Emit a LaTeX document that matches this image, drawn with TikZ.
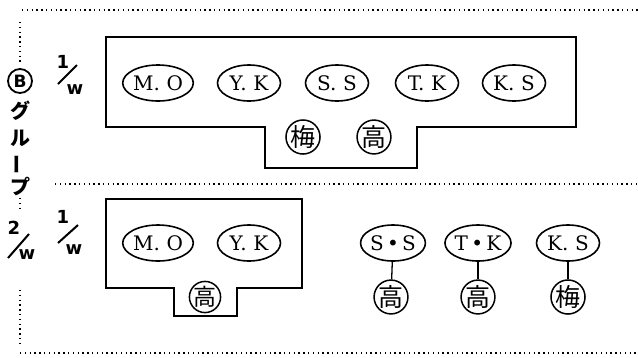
\documentclass[tikz,border=0pt]{standalone}
\usepackage{fontspec}
\usepackage{graphicx}
\newfontfamily\cjk{Noto Sans CJK JP}
\newfontfamily\serifb{DejaVu Serif}
\newfontfamily\sansb{DejaVu Sans}
\usetikzlibrary{shapes.geometric}
\tikzset{
  person/.style={ellipse, draw, line width=1.6pt, minimum width=63pt, minimum height=36pt, inner sep=0pt, font=\serifb\fontsize{20}{20}\selectfont},
  kan/.style={circle, draw, line width=1.5pt, minimum size=33pt, inner sep=0pt, font=\cjk\fontsize{25}{25}\selectfont},
  boxline/.style={line width=2pt, line join=miter},
  dotline/.style={line width=1.3pt, dash pattern=on 1.3pt off 3.5pt},
  num/.style={inner sep=0pt, font=\sansb\bfseries\fontsize{18}{18}\selectfont},
  wlab/.style={inner sep=0pt, font=\sansb\bfseries\fontsize{18}{18}\selectfont},
  vkana/.style={inner sep=0pt, font=\cjk\bfseries\fontsize{20}{20}\selectfont},
  slash/.style={line width=2pt},
  link/.style={line width=1.3pt}
}
\begin{document}
\begin{tikzpicture}[x=1pt,y=-1pt]
\useasboundingbox (0,0) rectangle (638,357);

% dotted frame lines
\draw[dotline] (22,10) -- (638,10);
\draw[dotline] (20,22) -- (20,64);
\draw[dotline] (55,184) -- (638,184);
\draw[dotline] (20,198) -- (20,212);
\draw[dotline] (20,290) -- (20,346);
\draw[dotline] (20,353) -- (638,353);

% vertical label
\node[circle, draw, line width=1.8pt, minimum size=24pt, inner sep=0pt, font=\sansb\bfseries\fontsize{17}{17}\selectfont] (bmark) at (20,81) {B};
\node[vkana] (k1) at (20,111) {グ};
\node[vkana] (k2) at (20,138) {ル};
\node[vkana] (k3) at (20,164) {\rotatebox{90}{ー}};
\node[vkana] (k4) at (20,187) {プ};

% 1/w top
\node[num] (t1) at (63,62) {1};
\coordinate (ts1) at (58,84);
\coordinate (ts2) at (77,65);
\draw[slash] (ts1) -- (ts2);
\node[wlab] (tw) at (75,90) {w};

% 1/w bottom
\node[num] (b1) at (63,217) {1};
\coordinate (bs1) at (58,243);
\coordinate (bs2) at (78,225);
\draw[slash] (bs1) -- (bs2);
\node[wlab] (bw) at (74,250) {w};

% 2/w
\node[num] (n2) at (14,228) {2};
\coordinate (ns1) at (8,258);
\coordinate (ns2) at (29,234);
\draw[slash] (ns1) -- (ns2);
\node[wlab] (nw) at (27,255) {w};

% top box
\draw[boxline] (106,37) -- (576,37) -- (576,127) -- (417,127) -- (417,168) -- (265,168) -- (265,127) -- (106,127) -- cycle;
\node[person] (mo1) at (158,83) {M.\,\,O};
\node[person] (yk1) at (249,83) {Y.\,\,K};
\node[person] (ss1) at (337,83) {S.\,\,S};
\node[person] (tk1) at (427,83) {T.\,\,K};
\node[person] (ks1) at (514,83) {K.\,\,S};
\node[kan] (u1) at (303,137) {梅};
\node[kan] (h1) at (374,137) {高};

% bottom box
\draw[boxline] (106,199) -- (302,199) -- (302,288) -- (237,288) -- (237,316) -- (174,316) -- (174,288) -- (106,288) -- cycle;
\node[person] (mo2) at (158,243) {M.\,\,O};
\node[person] (yk2) at (249,243) {Y.\,\,K};
\node[kan, minimum size=30pt, font=\cjk\fontsize{23}{23}\selectfont] (h2) at (205,297) {高};

% bottom right pairs
\node[person] (ss2) at (393,243) {S\,\textbullet\,S};
\node[person] (tk2) at (478,243) {T\,\textbullet\,K};
\node[person] (ks2) at (568,243) {K.\,\,S};
\node[kan] (h3) at (391,297) {高};
\node[kan] (h4) at (478,297) {高};
\node[kan] (u2) at (568,297) {梅};
\draw[link] (ss2) -- (h3);
\draw[link] (tk2) -- (h4);
\draw[link] (ks2) -- (u2);
\end{tikzpicture}
\end{document}
